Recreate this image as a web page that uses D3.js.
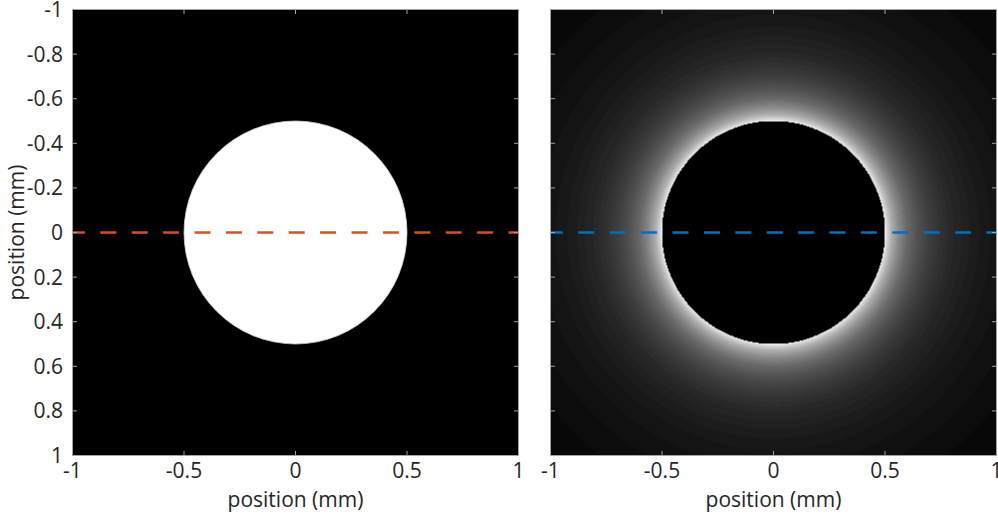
<!DOCTYPE html>
<html><head><meta charset="utf-8">
<script src="https://cdn.jsdelivr.net/npm/d3@7"></script>
<style>
html,body{margin:0;padding:0;background:#fff;}
svg{display:block;}
text{font-family:"Open Sans","Noto Sans",sans-serif;fill:#262626;}
</style></head>
<body>
<svg id="chart" width="998" height="520"></svg>
<script>
// ---- data ----
const domainX = [-1, 1];
const domainY = [-1, 1];
const xTicks = [-1, -0.5, 0, 0.5, 1];
const yTicks = [-1, -0.8, -0.6, -0.4, -0.2, 0, 0.2, 0.4, 0.6, 0.8, 1];
const yTickLabels = ["-1", "-0.8", "-0.6", "-0.4", "-0.2", "0", "0.2", "0.4", "0.6", "0.8", "1"];
const xTickLabels = ["-1", "-0.5", "0", "0.5", "1"];
const diskRadius = 0.5;
const lineY = 0;
// radial intensity profile outside disk (right panel)
const profileR = [0.5, 0.505, 0.515, 0.53, 0.56, 0.6, 0.65, 0.7, 0.75, 0.8, 0.9, 1.0, 1.2, 1.42];
const profileI = [0.96, 0.88, 0.79, 0.68, 0.54, 0.41, 0.31, 0.24, 0.19, 0.155, 0.11, 0.08, 0.047, 0.022];
const axisLabel = "position (mm)";
const lineColors = ["#D95319", "#0072BD"];

// ---- layout ----
const svg = d3.select("#chart");
const panels = [
  {x0: 72.5, x1: 518.5, showY: true, kind: "disk"},
  {x0: 550.5, x1: 996.5, showY: false, kind: "halo"}
];
const yTop = 9.5, yBot = 455.5;
const y = d3.scaleLinear().domain(domainY).range([yTop, yBot]);
const intensity = d3.scaleLinear().domain(profileR).range(profileI).clamp(true);
const axisColor = "#a3a3a3";
const tickLen = 4.5;
const fs = 21;

panels.forEach((p, pi) => {
  const x = d3.scaleLinear().domain(domainX).range([p.x0, p.x1]);
  const g = svg.append("g");
  const w = p.x1 - p.x0, h = yBot - yTop;
  if (p.kind === "disk") {
    g.append("rect").attr("x", p.x0).attr("y", yTop).attr("width", w).attr("height", h).attr("fill", "#000");
    g.append("ellipse").attr("cx", x(0)).attr("cy", y(0))
      .attr("rx", x(diskRadius) - x(0)).attr("ry", y(diskRadius) - y(0))
      .attr("fill", "#fff").attr("stroke", "#d0d0d0").attr("stroke-width", 0.8);
  } else {
    const W = Math.round(w), H = Math.round(h);
    const cv = document.createElement("canvas");
    cv.width = W; cv.height = H;
    const ctx = cv.getContext("2d");
    const img = ctx.createImageData(W, H);
    const xs = d3.scaleLinear().domain([0, W]).range(domainX);
    const ys = d3.scaleLinear().domain([0, H]).range(domainY);
    for (let j = 0; j < H; j++) {
      for (let i = 0; i < W; i++) {
        const px = xs(i + 0.5), py = ys(j + 0.5);
        const r = Math.sqrt(px * px + py * py);
        let v = r < diskRadius ? 0 : intensity(r);
        v = Math.round(v * 63) / 63; // 64-level gray colormap
        const c = Math.round(v * 255);
        const k = (j * W + i) * 4;
        img.data[k] = c; img.data[k + 1] = c; img.data[k + 2] = c; img.data[k + 3] = 255;
      }
    }
    ctx.putImageData(img, 0, 0);
    g.append("image").attr("x", p.x0).attr("y", yTop).attr("width", w).attr("height", h)
      .attr("preserveAspectRatio", "none").attr("href", cv.toDataURL());
  }
  // dashed line
  g.append("line").attr("x1", x(-1)).attr("x2", x(1)).attr("y1", y(lineY)).attr("y2", y(lineY))
    .attr("stroke", lineColors[pi]).attr("stroke-width", 2.5)
    .attr("stroke-dasharray", "16 15.4").attr("stroke-dashoffset", 3.6);
  // box
  g.append("rect").attr("x", p.x0).attr("y", yTop).attr("width", w).attr("height", h)
    .attr("fill", "none").attr("stroke", axisColor).attr("stroke-width", 1);
  // x ticks (bottom + top, inward)
  xTicks.forEach((t, i) => {
    g.append("line").attr("x1", x(t)).attr("x2", x(t)).attr("y1", yBot).attr("y2", yBot - tickLen).attr("stroke", axisColor);
    g.append("line").attr("x1", x(t)).attr("x2", x(t)).attr("y1", yTop).attr("y2", yTop + tickLen).attr("stroke", axisColor);
    g.append("text").attr("x", x(t)).attr("y", 478).attr("text-anchor", "middle")
      .attr("font-size", fs).text(xTickLabels[i]);
  });
  // y ticks (left + right, inward)
  yTicks.forEach((t, i) => {
    g.append("line").attr("x1", p.x0).attr("x2", p.x0 + tickLen).attr("y1", y(t)).attr("y2", y(t)).attr("stroke", axisColor);
    g.append("line").attr("x1", p.x1).attr("x2", p.x1 - tickLen).attr("y1", y(t)).attr("y2", y(t)).attr("stroke", axisColor);
    if (p.showY) {
      g.append("text").attr("x", 63).attr("y", y(t) + 7.5).attr("text-anchor", "end")
        .attr("font-size", fs).text(yTickLabels[i]);
    }
  });
  g.append("text").attr("x", x(0)).attr("y", 507).attr("text-anchor", "middle")
    .attr("font-size", fs).text(axisLabel);
  if (p.showY) {
    g.append("text").attr("transform", `translate(24,${y(0)}) rotate(-90)`)
      .attr("text-anchor", "middle").attr("font-size", fs).text(axisLabel);
  }
});
</script>
</body></html>
